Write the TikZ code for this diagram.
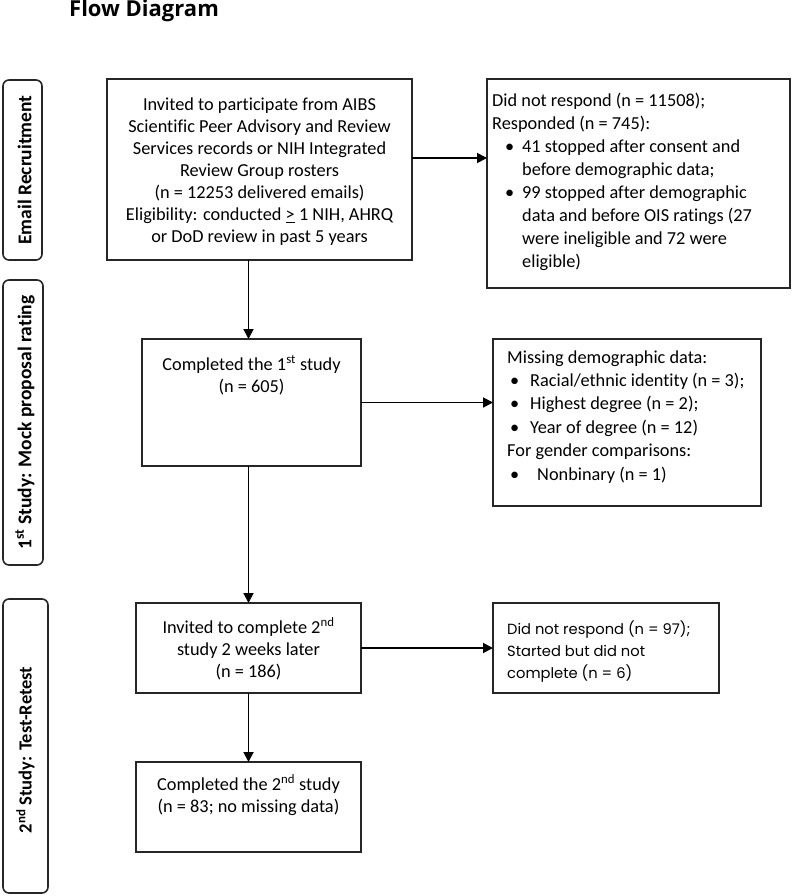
\documentclass[tikz,border=0pt]{standalone}
\usepackage{fontspec}
\setmainfont{Carlito}[Ligatures={NoCommon}]
\newfontfamily\titlefont{Open Sans}
\newfontfamily\altfont{Poppins}
\usetikzlibrary{arrows.meta}
\begin{document}
\begin{tikzpicture}[x=1pt,y=-1pt,
  box/.style={draw=black!85,line width=1.6pt,inner sep=0pt,outer sep=0pt},
  lane/.style={draw=black!85,line width=1.6pt,rounded corners=6pt,inner sep=0pt,outer sep=0pt},
  lanetxt/.style={rotate=90,font=\fontsize{19.5}{22}\selectfont\bfseries,inner sep=0pt},
  txt/.style={inner sep=0pt,font=\fontsize{18.3}{22}\selectfont},
  arr/.style={line width=1.8pt,-{Triangle[length=10pt,width=10pt]}}]
\useasboundingbox (0,0) rectangle (793,896);
\node[anchor=base west,inner sep=0pt,font=\titlefont\bfseries\fontsize{22}{24}\selectfont] (title) at (69,17) {Flow Diagram};
% lanes
\node[lane,minimum width=39,minimum height=180] (l1) at (22.5,170) {};
\node[lanetxt] (l1t) at ([xshift=2pt]l1.center) {Email Recruitment};
\node[lane,minimum width=40,minimum height=285] (l2) at (23,422.5) {};
\node[lanetxt] (l2t) at ([xshift=2pt]l2.center) {1\textsuperscript{st} Study: Mock proposal rating};
\node[lane,minimum width=45,minimum height=294] (l3) at (25.5,746) {};
\node[lanetxt,font=\fontsize{18.5}{22}\selectfont\bfseries] (l3t) at ([yshift=-4pt]l3.center) {2\textsuperscript{nd} Study: Test-Retest};
% boxes
\node[box,minimum width=305,minimum height=181] (b1) at (259.5,169.5) {};
\node[box,minimum width=303,minimum height=209] (r1) at (638.5,183.5) {};
\node[box,minimum width=219,minimum height=127] (b2) at (251.5,402.5) {};
\node[box,minimum width=268,minimum height=167] (r2) at (627,422.5) {};
\node[box,minimum width=225,minimum height=90] (b3) at (248.5,648) {};
\node[box,minimum width=226,minimum height=90] (r3) at (606,648) {};
\node[box,minimum width=225,minimum height=90] (b4) at (248.5,807) {};
% texts (anchored at the baseline of the last line)
\node[txt,anchor=base,align=center] (b1t) at (259.5,242.7) {Invited to participate from AIBS\\Scientific Peer Advisory and Review\\Services records or NIH Integrated\\Review Group rosters\\(n = 12253 delivered emails)\\Eligibility: conducted \underline{>} 1 NIH, AHRQ\\or DoD review in past 5 years};
\node[txt,anchor=base west,align=left,font=\fontsize{18.3}{22.86}\selectfont] (r1t) at (492,267) {Did not respond (n = 11508);\\Responded (n = 745):\\
\hspace*{13pt}\makebox[17pt][l]{\textbullet}41 stopped after consent and\\
\hspace*{30pt}before demographic data;\\
\hspace*{13pt}\makebox[17pt][l]{\textbullet}99 stopped after demographic\\
\hspace*{30pt}data and before OIS ratings (27\\
\hspace*{30pt}were ineligible and 72 were\\
\hspace*{30pt}eligible)};
\node[txt,anchor=base,align=center] (b2t) at (251.5,392) {Completed the 1\textsuperscript{st} study\\(n = 605)};
\node[txt,anchor=base west,align=left,font=\fontsize{18.3}{23.4}\selectfont] (r2t) at (507,480) {Missing demographic data:\\
\hspace*{3pt}\makebox[20pt][l]{\textbullet}Racial/ethnic identity (n = 3);\\
\hspace*{3pt}\makebox[20pt][l]{\textbullet}Highest degree (n = 2);\\
\hspace*{3pt}\makebox[20pt][l]{\textbullet}Year of degree (n = 12)\\
For gender comparisons:\\
\hspace*{3pt}\makebox[27pt][l]{\textbullet}Nonbinary (n = 1)};
\node[txt,anchor=base,align=center] (b3t) at (248.5,677) {Invited to complete 2\textsuperscript{nd}\\study 2 weeks later\\(n = 186)};
\node[txt,anchor=base west,align=left,font=\altfont\fontsize{14.7}{22}\selectfont] (r3t) at (507,678) {Did not respond (n = 97);\\Started but did not\\complete (n = 6)};
\node[txt,anchor=base,align=center] (b4t) at (248.5,812) {Completed the 2\textsuperscript{nd} study\\(n = 83; no missing data)};
% connectors
\draw[arr] ([yshift=11.5pt]b1.east) -- ([yshift=11.5pt]b1.east -| r1.west);
\draw[arr] (b1.south -| b3.north) -- (b2.north -| b3.north);
\draw[arr] (b2.east) -- (b2.east -| r2.west);
\draw[arr] (b2.south -| b3.north) -- (b3.north);
\draw[arr] (b3.east) -- (r3.west);
\draw[arr] (b3.south) -- (b4.north);
\end{tikzpicture}
\end{document}
